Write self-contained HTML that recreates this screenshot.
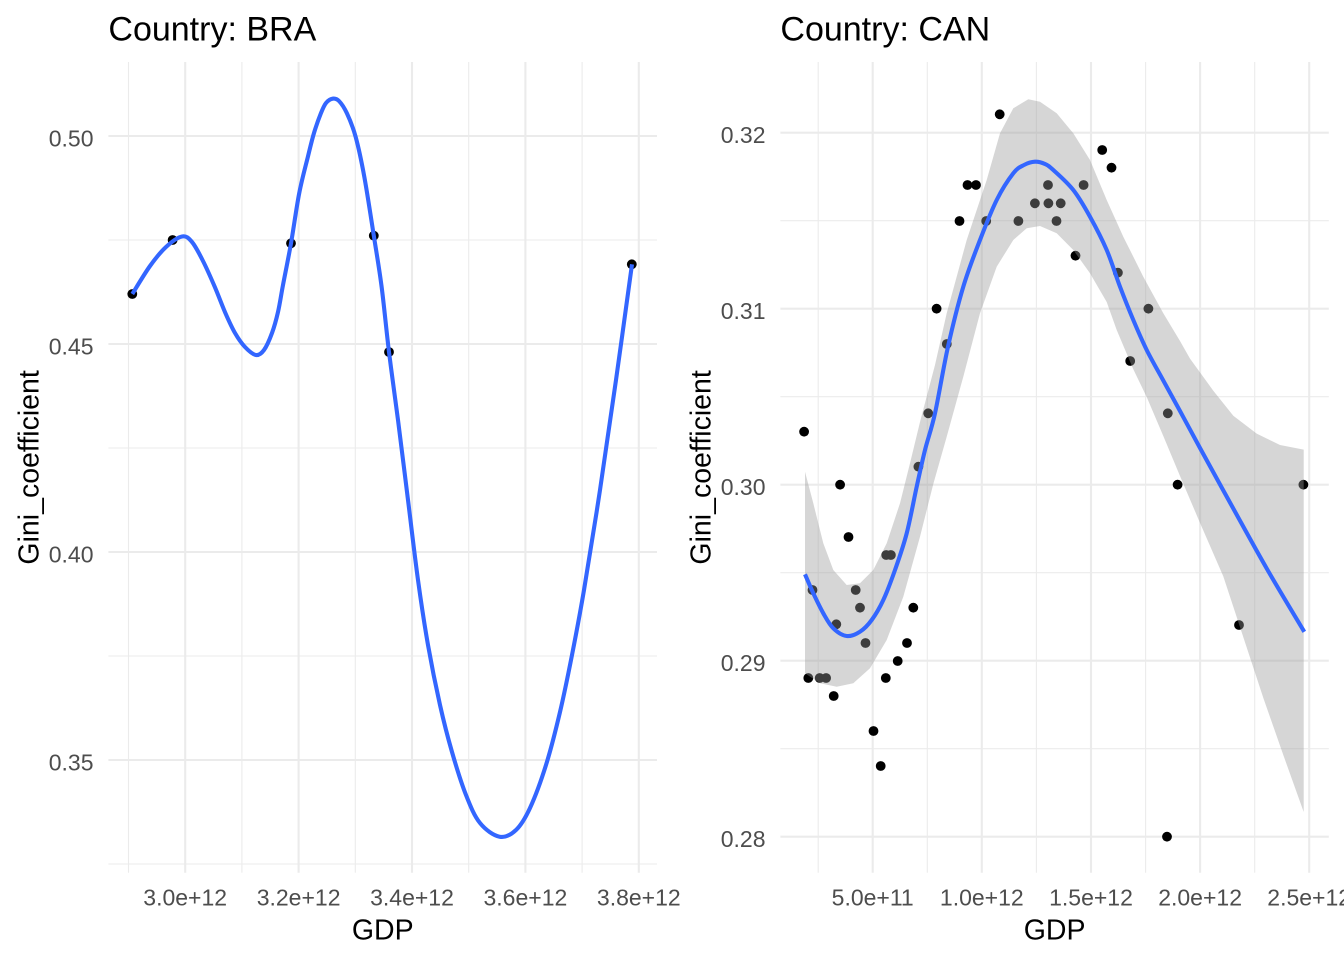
<!DOCTYPE html>
<html>
<head>
<meta charset="utf-8">
<style>
  html, body { margin:0; padding:0; background:#ffffff; }
  body { width:1344px; height:960px; overflow:hidden; }
  svg { display:block; }
  text { font-family:"Liberation Sans", Arial, sans-serif; }
  .tick { font-size:23px; fill:#4D4D4D; }
  .axt { font-size:28.5px; fill:#000; }
  .ttl { font-size:34px; fill:#000; }
  .gmaj { stroke:#EBEBEB; stroke-width:2.1; }
  .gmin { stroke:#EBEBEB; stroke-width:1.05; }
</style>
</head>
<body>
<svg width="1344" height="960" viewBox="0 0 1344 960" xmlns="http://www.w3.org/2000/svg">
  <rect x="0" y="0" width="1344" height="960" fill="#ffffff"/>

  <!-- LEFT PANEL: BRA -->
  <g class="gmin">
    <line x1="108.4" x2="657" y1="240" y2="240"/>
    <line x1="108.4" x2="657" y1="448" y2="448"/>
    <line x1="108.4" x2="657" y1="656" y2="656"/>
    <line x1="108.4" x2="657" y1="864" y2="864"/>
    <line x1="128.5" x2="128.5" y1="62" y2="872.7"/>
    <line x1="241.9" x2="241.9" y1="62" y2="872.7"/>
    <line x1="355.3" x2="355.3" y1="62" y2="872.7"/>
    <line x1="468.7" x2="468.7" y1="62" y2="872.7"/>
    <line x1="582.1" x2="582.1" y1="62" y2="872.7"/>
  </g>
  <g class="gmaj">
    <line x1="108.4" x2="657" y1="136" y2="136"/>
    <line x1="108.4" x2="657" y1="344" y2="344"/>
    <line x1="108.4" x2="657" y1="552" y2="552"/>
    <line x1="108.4" x2="657" y1="760" y2="760"/>
    <line x1="185.2" x2="185.2" y1="62" y2="872.7"/>
    <line x1="298.6" x2="298.6" y1="62" y2="872.7"/>
    <line x1="412" x2="412" y1="62" y2="872.7"/>
    <line x1="525.4" x2="525.4" y1="62" y2="872.7"/>
    <line x1="638.8" x2="638.8" y1="62" y2="872.7"/>
  </g>
  <g fill="#000">
    <circle cx="132.3" cy="294" r="4.9"/>
    <circle cx="172.6" cy="240" r="4.9"/>
    <circle cx="291" cy="243.3" r="4.9"/>
    <circle cx="373.8" cy="235.7" r="4.9"/>
    <circle cx="389" cy="352" r="4.9"/>
    <circle cx="631.8" cy="264.3" r="4.9"/>
  </g>
  <polyline class="smooth" fill="none" stroke="#3366FF" stroke-width="4.1" stroke-linejoin="round"
    points="132.3,294 150,266 166,247 182,236.5 192,242 203,261 214.7,286.7 225.5,313.3 235,333 245,347 255.9,355 264,350 272,333 278,312 283,285 291,243.3 299.2,193.3 307.9,156.7 314,133 320.9,113.3 326,103 332.6,98.7 339,101 346.9,113.3 355.6,136.7 364.3,176.7 373.8,235.7 381.6,286.7 389,352 398,420 408,500 418,580 428,645 440,705 452,752 466,795 480,823 499.6,836.7 516,830 530,808 546,765 560,712 572,655 584,590 600,490 616,380 632,264.3"/>

  <g class="tick" text-anchor="end">
    <text x="93.5" y="146.5">0.50</text>
    <text x="93.5" y="354.5">0.45</text>
    <text x="93.5" y="562.5">0.40</text>
    <text x="93.5" y="770.5">0.35</text>
  </g>
  <g class="tick" text-anchor="middle">
    <text x="185.2" y="905.5">3.0e+12</text>
    <text x="298.6" y="905.5">3.2e+12</text>
    <text x="412" y="905.5">3.4e+12</text>
    <text x="525.4" y="905.5">3.6e+12</text>
    <text x="638.8" y="905.5">3.8e+12</text>
  </g>
  <text class="axt" x="382.7" y="939.5" text-anchor="middle">GDP</text>
  <text class="axt" text-anchor="middle" transform="translate(38.5,467.4) rotate(-90)">Gini_coefficient</text>
  <text class="ttl" x="108.4" y="40.7">Country: BRA</text>

  <!-- RIGHT PANEL: CAN -->
  <g class="gmin">
    <line x1="780.4" x2="1328.8" y1="220.7" y2="220.7"/>
    <line x1="780.4" x2="1328.8" y1="396.7" y2="396.7"/>
    <line x1="780.4" x2="1328.8" y1="572.7" y2="572.7"/>
    <line x1="780.4" x2="1328.8" y1="748.7" y2="748.7"/>
    <line x1="818.2" x2="818.2" y1="62" y2="872.7"/>
    <line x1="927.3" x2="927.3" y1="62" y2="872.7"/>
    <line x1="1036.4" x2="1036.4" y1="62" y2="872.7"/>
    <line x1="1145.6" x2="1145.6" y1="62" y2="872.7"/>
    <line x1="1254.7" x2="1254.7" y1="62" y2="872.7"/>
  </g>
  <g class="gmaj">
    <line x1="780.4" x2="1328.8" y1="132.7" y2="132.7"/>
    <line x1="780.4" x2="1328.8" y1="308.7" y2="308.7"/>
    <line x1="780.4" x2="1328.8" y1="484.7" y2="484.7"/>
    <line x1="780.4" x2="1328.8" y1="660.7" y2="660.7"/>
    <line x1="780.4" x2="1328.8" y1="836.7" y2="836.7"/>
    <line x1="872.7" x2="872.7" y1="62" y2="872.7"/>
    <line x1="981.8" x2="981.8" y1="62" y2="872.7"/>
    <line x1="1091" x2="1091" y1="62" y2="872.7"/>
    <line x1="1200.1" x2="1200.1" y1="62" y2="872.7"/>
    <line x1="1309.2" x2="1309.2" y1="62" y2="872.7"/>
  </g>
  <g fill="#000">
    <circle cx="804.1" cy="431.7" r="4.9"/>
    <circle cx="840.1" cy="484.7" r="4.9"/>
    <circle cx="918.4" cy="466.7" r="4.9"/>
    <circle cx="928.2" cy="413.3" r="4.9"/>
    <circle cx="946.8" cy="344" r="4.9"/>
    <circle cx="936.6" cy="308.7" r="4.9"/>
    <circle cx="959.5" cy="221" r="4.9"/>
    <circle cx="967.5" cy="185" r="4.9"/>
    <circle cx="976" cy="185" r="4.9"/>
    <circle cx="986.2" cy="221" r="4.9"/>
    <circle cx="999.7" cy="114.3" r="4.9"/>
    <circle cx="1018.4" cy="221" r="4.9"/>
    <circle cx="1034.9" cy="203.3" r="4.9"/>
    <circle cx="1048" cy="185" r="4.9"/>
    <circle cx="1048.4" cy="203.3" r="4.9"/>
    <circle cx="1060.7" cy="203.3" r="4.9"/>
    <circle cx="1056.5" cy="221" r="4.9"/>
    <circle cx="1083.6" cy="185" r="4.9"/>
    <circle cx="1075.5" cy="255.7" r="4.9"/>
    <circle cx="1102.2" cy="150" r="4.9"/>
    <circle cx="1111.5" cy="167.7" r="4.9"/>
    <circle cx="1117.9" cy="272.7" r="4.9"/>
    <circle cx="1148.4" cy="308.7" r="4.9"/>
    <circle cx="1130.2" cy="361" r="4.9"/>
    <circle cx="1167.8" cy="413.3" r="4.9"/>
    <circle cx="1177.6" cy="484.7" r="4.9"/>
    <circle cx="1303.4" cy="484.7" r="4.9"/>
    <circle cx="848.5" cy="537" r="4.9"/>
    <circle cx="808.3" cy="678" r="4.9"/>
    <circle cx="812.5" cy="590" r="4.9"/>
    <circle cx="819.7" cy="678" r="4.9"/>
    <circle cx="826.1" cy="678" r="4.9"/>
    <circle cx="833.7" cy="696" r="4.9"/>
    <circle cx="836.3" cy="624.3" r="4.9"/>
    <circle cx="855.7" cy="590" r="4.9"/>
    <circle cx="860" cy="607.7" r="4.9"/>
    <circle cx="865.5" cy="643" r="4.9"/>
    <circle cx="873.5" cy="731" r="4.9"/>
    <circle cx="880.7" cy="766" r="4.9"/>
    <circle cx="885.8" cy="678" r="4.9"/>
    <circle cx="886.2" cy="555" r="4.9"/>
    <circle cx="890.9" cy="555" r="4.9"/>
    <circle cx="897.7" cy="661" r="4.9"/>
    <circle cx="907" cy="643" r="4.9"/>
    <circle cx="913.3" cy="607.7" r="4.9"/>
    <circle cx="1167" cy="836.7" r="4.9"/>
    <circle cx="1239" cy="625" r="4.9"/>
  </g>
  <polygon fill="#999999" fill-opacity="0.4" stroke="none"
    points="805,471.7 813.3,503.3 823.3,543.3 833.3,570 846.7,585 860,583.3 873.3,570 886.7,543.3 900,503.3 910,463.3 920,422 935,365 946.7,313.3 966.7,240 986.7,180 1000,133.3 1013.3,108.3 1028.3,99.3 1040,101.7 1056.7,113.3 1073.3,133.3 1090,160 1106.7,200 1123.3,236.7 1143.3,276.7 1163.3,313.3 1180,341 1190,358.6 1213.3,390.7 1233.3,415.7 1256.7,433.6 1280,445 1303.7,449.6 1303.7,812 1283.3,755 1263.3,697.9 1243.3,637.1 1223.3,576.4 1200,522.9 1180,476 1163.3,436 1146.7,397 1133.3,369.3 1116.7,330 1106.7,302 1090,273.3 1073.3,250 1056.7,233.3 1040,226 1026.7,228.3 1013.3,240 996.7,266.7 980,313.3 963.3,376.7 946.7,436.7 933.3,484 920,536.7 903.3,596.7 886.7,640 870,668.3 853.3,683.3 836.7,686.7 820,683.3 805,673.3"/>
  <polyline class="smooth" fill="none" stroke="#3366FF" stroke-width="4.1" stroke-linejoin="round"
    points="805,574.3 813.3,593.3 823.3,613.3 833.3,628.3 846.7,636 860,631.7 871.7,620 883.3,600 895,570 906.7,533.3 916.7,486.7 925,450 935,413.3 948,346.7 963.3,286.7 980,240 996.7,200 1013.3,173.3 1024,165 1035,161.7 1045,164 1053.3,170 1073.3,190 1090,216.7 1106.7,250 1120,286.7 1133.3,320 1146.7,350 1163,380 1180,411 1200,448 1233,508 1267,569 1304.3,631.8"/>

  <g class="tick" text-anchor="end">
    <text x="765.5" y="143.2">0.32</text>
    <text x="765.5" y="319.2">0.31</text>
    <text x="765.5" y="495.2">0.30</text>
    <text x="765.5" y="671.2">0.29</text>
    <text x="765.5" y="847.2">0.28</text>
  </g>
  <g class="tick" text-anchor="middle">
    <text x="872.7" y="905.5">5.0e+11</text>
    <text x="981.8" y="905.5">1.0e+12</text>
    <text x="1091" y="905.5">1.5e+12</text>
    <text x="1200.1" y="905.5">2.0e+12</text>
    <text x="1309.2" y="905.5">2.5e+12</text>
  </g>
  <text class="axt" x="1054.6" y="939.5" text-anchor="middle">GDP</text>
  <text class="axt" text-anchor="middle" transform="translate(710.5,467.4) rotate(-90)">Gini_coefficient</text>
  <text class="ttl" x="780.4" y="40.7">Country: CAN</text>
</svg>
<script>
(function () {
  var NS = "http://www.w3.org/2000/svg";
  var lines = document.querySelectorAll("polyline.smooth");
  for (var k = 0; k < lines.length; k++) {
    var pl = lines[k];
    var raw = pl.getAttribute("points").trim().split(/\s+/);
    var p = [];
    for (var i = 0; i < raw.length; i++) {
      var xy = raw[i].split(",");
      p.push([parseFloat(xy[0]), parseFloat(xy[1])]);
    }
    if (p.length < 3) continue;
    var d = "M" + p[0][0] + "," + p[0][1];
    for (var j = 0; j < p.length - 1; j++) {
      var p0 = p[j > 0 ? j - 1 : 0];
      var p1 = p[j];
      var p2 = p[j + 1];
      var p3 = p[j + 2 < p.length ? j + 2 : p.length - 1];
      var c1x = p1[0] + (p2[0] - p0[0]) / 6;
      var c1y = p1[1] + (p2[1] - p0[1]) / 6;
      var c2x = p2[0] - (p3[0] - p1[0]) / 6;
      var c2y = p2[1] - (p3[1] - p1[1]) / 6;
      d += " C" + c1x.toFixed(2) + "," + c1y.toFixed(2) + " " +
           c2x.toFixed(2) + "," + c2y.toFixed(2) + " " + p2[0] + "," + p2[1];
    }
    var path = document.createElementNS(NS, "path");
    path.setAttribute("d", d);
    path.setAttribute("fill", "none");
    path.setAttribute("stroke", pl.getAttribute("stroke"));
    path.setAttribute("stroke-width", pl.getAttribute("stroke-width"));
    path.setAttribute("stroke-linejoin", "round");
    pl.parentNode.replaceChild(path, pl);
  }
})();
</script>
</body>
</html>
